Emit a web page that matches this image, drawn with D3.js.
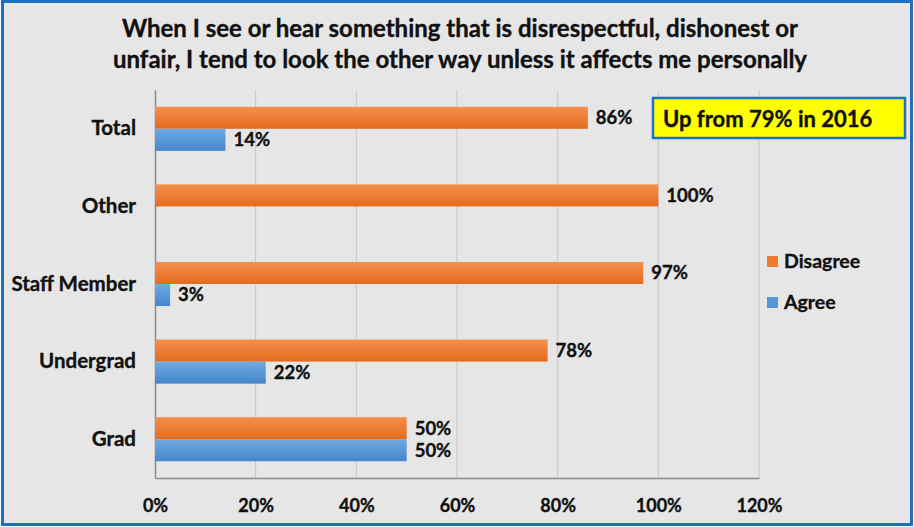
<!DOCTYPE html>
<html>
<head>
<meta charset="utf-8">
<script src="https://cdn.jsdelivr.net/npm/d3@7"></script>
<style>
  body { margin: 0; background: #fff; }
  svg { display: block; font-family: Lato, "Open Sans", sans-serif; font-weight: bold; }
  .heavy { stroke: #111; stroke-width: 0.35px; }
</style>
</head>
<body>
<svg id="chart"></svg>
<script>
// chart data
const categories = ["Total", "Other", "Staff Member", "Undergrad", "Grad"];
const disagree = [86, 100, 97, 78, 50];
const agree = [14, null, 3, 22, 50];
const seriesNames = ["Disagree", "Agree"];
const xTicks = [0, 20, 40, 60, 80, 100, 120];
const titleLines = [
    "When I see or hear something that is disrespectful, dishonest or",
    "unfair, I tend to look the other way unless it affects me personally"
];
const note = "Up from 79% in 2016";

const width = 914;
const height = 527;
const plot = { left: 155, right: 759, top: 90, bottom: 478 };

const svg = d3.select("#chart").attr("width", width).attr("height", height);

// gradients for bars
const defs = svg.append("defs");
const addGrad = (id, c1, c2) => {
    const g = defs.append("linearGradient").attr("id", id)
        .attr("x1", 0).attr("y1", 0).attr("x2", 0).attr("y2", 1);
    g.append("stop").attr("offset", "0%").attr("stop-color", c1);
    g.append("stop").attr("offset", "100%").attr("stop-color", c2);
};
addGrad("gOrange", "#f4904f", "#e46b1c");
addGrad("gBlue", "#6ea9e2", "#4686cc");

// background and frame
svg.append("rect")
    .attr("x", 2.5).attr("y", 1.5)
    .attr("width", width - 5).attr("height", height - 4)
    .attr("fill", "#e6e6e6")
    .attr("stroke", "#1c71c0")
    .attr("stroke-width", 3);

// title
svg.append("g").selectAll("text")
    .data(titleLines)
    .enter()
    .append("text")
    .attr("class", "heavy")
    .attr("x", 460)
    .attr("y", (d, i) => 37 + i * 31)
    .attr("text-anchor", "middle")
    .style("font-size", "24px")
    .attr("fill", "#111")
    .text((d) => d);

const xScale = d3.scaleLinear()
    .domain([0, 120])
    .range([plot.left, plot.right]);

const yScale = d3.scaleBand()
    .domain(categories)
    .range([plot.top, plot.bottom]);

// two bars per category, ~22px each
const inner = d3.scaleBand()
    .domain(seriesNames)
    .range([0, yScale.bandwidth()])
    .paddingOuter(0.76);

// gridlines
svg.append("g")
    .selectAll("line")
    .data(xTicks.slice(1))
    .enter()
    .append("line")
    .attr("x1", (d) => xScale(d)).attr("x2", (d) => xScale(d))
    .attr("y1", plot.top).attr("y2", plot.bottom)
    .attr("stroke", "#c6c6c6")
    .attr("stroke-width", 1);

// x axis
const xAxis = d3.axisBottom(xScale)
    .tickValues(xTicks)
    .tickFormat((d) => d + "%")
    .tickSize(0)
    .tickPadding(21);

const xg = svg.append("g")
    .attr("transform", "translate(0," + plot.bottom + ")")
    .call(xAxis);
xg.select(".domain").attr("stroke", "#8a8a8a").attr("stroke-width", 1.5);
xg.selectAll("text").attr("class", "heavy").style("font-size", "18px").attr("fill", "#111")
    .style("font-family", "Lato, sans-serif");

// y axis
const yAxis = d3.axisLeft(yScale).tickSize(0).tickPadding(19);
const yg = svg.append("g")
    .attr("transform", "translate(" + plot.left + ",0)")
    .call(yAxis);
yg.select(".domain").attr("stroke", "#8a8a8a").attr("stroke-width", 1.5);
yg.selectAll("text").attr("class", "heavy").style("font-size", "20.5px").attr("fill", "#111")
    .style("font-family", "Lato, sans-serif");

// bars
const rows = [];
categories.forEach((c, i) => {
    rows.push({ cat: c, series: "Disagree", value: disagree[i] });
    if (agree[i] !== null) rows.push({ cat: c, series: "Agree", value: agree[i] });
});

const barG = svg.append("g");
barG.selectAll("rect")
    .data(rows)
    .enter()
    .append("rect")
    .attr("x", xScale(0))
    .attr("y", (d) => yScale(d.cat) + inner(d.series))
    .attr("width", (d) => xScale(d.value) - xScale(0))
    .attr("height", inner.bandwidth())
    .attr("fill", (d) => d.series === "Disagree" ? "url(#gOrange)" : "url(#gBlue)");

barG.selectAll("text")
    .data(rows)
    .enter()
    .append("text")
    .attr("class", "heavy")
    .attr("x", (d) => xScale(d.value) + 8)
    .attr("y", (d) => yScale(d.cat) + inner(d.series) + inner.bandwidth() / 2)
    .attr("dy", "0.35em")
    .style("font-size", "18.5px")
    .attr("fill", "#111")
    .text((d) => d.value + "%");

// legend
const legend = svg.append("g").attr("transform", "translate(767,0)");
const legendY = [261, 302];
legend.selectAll("rect")
    .data(seriesNames)
    .enter()
    .append("rect")
    .attr("x", 0)
    .attr("y", (d, i) => legendY[i] - 5)
    .attr("width", 11).attr("height", 11)
    .attr("fill", (d) => d === "Disagree" ? "#ef7b2e" : "#5595d8");
legend.selectAll("text")
    .data(seriesNames)
    .enter()
    .append("text")
    .attr("class", "heavy")
    .attr("x", 17)
    .attr("y", (d, i) => legendY[i])
    .attr("dy", "0.35em")
    .style("font-size", "19.5px")
    .attr("fill", "#111")
    .text((d) => d);

// annotation box
const box = svg.append("g").attr("transform", "translate(653,98)");
box.append("rect")
    .attr("width", 252).attr("height", 40)
    .attr("fill", "#ffff00")
    .attr("stroke", "#1c71c0")
    .attr("stroke-width", 2.5);
box.append("text")
    .attr("class", "heavy")
    .attr("x", 10).attr("y", 21)
    .attr("dy", "0.35em")
    .style("font-size", "22px")
    .attr("fill", "#111")
    .text(note);
</script>
</body>
</html>
